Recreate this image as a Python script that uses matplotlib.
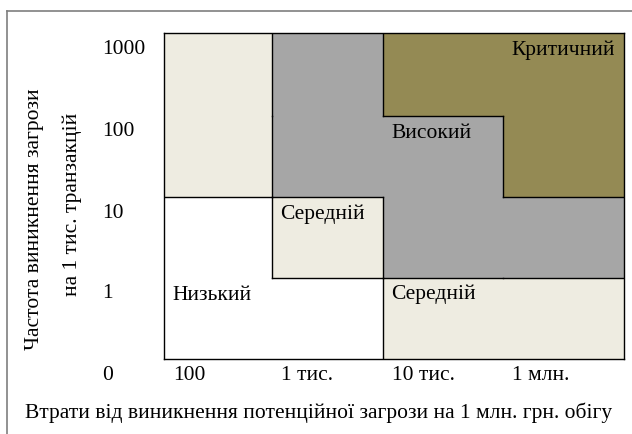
import matplotlib
matplotlib.use("Agg")
import matplotlib.pyplot as plt
from matplotlib.transforms import offset_copy
from matplotlib.patches import Rectangle
from matplotlib.collections import LineCollection
from matplotlib.lines import Line2D

# ---------------- data ----------------
freq_labels = ["1000", "100", "10", "1"]          # rows, top -> bottom
loss_labels = ["100", "1 тис.", "10 тис.", "1 млн."]  # columns, left -> right
origin_label = "0"
level_names = ["Низький", "Середній", "Високий", "Критичний"]
risk_levels = [
    [1, 2, 3, 3],
    [1, 2, 2, 3],
    [0, 1, 2, 2],
    [0, 0, 1, 1],
]
zone_captions = [("Критичний", 0, 3), ("Високий", 1, 2), ("Середній", 2, 1),
                 ("Низький", 3, 0), ("Середній", 3, 2)]
x_title = "Втрати від виникнення потенційної загрози на 1 млн. грн. обігу"
y_title = ["Частота виникнення загрози", "на 1 тис. транзакцій"]

# ---------------- layout / style ----------------
level_colors = ["#FFFFFF", "#EEECE1", "#A6A6A6", "#948A54"]
col_edges = [0, 108, 219, 339, 460]
row_edges = [0, 83, 164, 245, 326]
W, H, DPI = 632, 434, 100
FS = 15.5
plt.rcParams["font.family"] = ["Liberation Serif", "DejaVu Serif"]

fig = plt.figure(figsize=(W / DPI, H / DPI), dpi=DPI)
fig.patch.set_facecolor("white")
ax = fig.add_axes([164 / W, 1 - 359 / H, 460 / W, 326 / H])
ax.set_xlim(col_edges[0], col_edges[-1])
ax.set_ylim(row_edges[-1], row_edges[0])
ax.set_xticks([])
ax.set_yticks([])
for s in ax.spines.values():
    s.set_linewidth(1.0)
    s.set_color("black")
    s.set_zorder(5)

nr, nc = len(risk_levels), len(risk_levels[0])
for r in range(nr):
    for c in range(nc):
        ax.add_patch(Rectangle((col_edges[c], row_edges[r]),
                               col_edges[c + 1] - col_edges[c],
                               row_edges[r + 1] - row_edges[r],
                               facecolor=level_colors[risk_levels[r][c]],
                               edgecolor="none", zorder=1))

segs = []
for r in range(nr):
    for c in range(nc):
        if c + 1 < nc and risk_levels[r][c] != risk_levels[r][c + 1]:
            segs.append([(col_edges[c + 1], row_edges[r]), (col_edges[c + 1], row_edges[r + 1])])
        if r + 1 < nr and risk_levels[r][c] != risk_levels[r + 1][c]:
            segs.append([(col_edges[c], row_edges[r + 1]), (col_edges[c + 1], row_edges[r + 1])])
ax.add_collection(LineCollection(segs, colors="black", linewidths=1.0,
                                 capstyle="projecting", zorder=4))

def off(dx, dy):
    return offset_copy(ax.transData, fig=fig, x=dx, y=dy, units="dots")

DY = -21.5
for name, r, c in zone_captions:
    if c == nc - 1 and r == 0:
        ax.text(col_edges[c + 1], row_edges[r], name, transform=off(-9, DY),
                ha="right", va="baseline", fontsize=FS, zorder=6)
    else:
        ax.text(col_edges[c], row_edges[r], name, transform=off(8, DY),
                ha="left", va="baseline", fontsize=FS, zorder=6)

for r, lab in enumerate(freq_labels):
    ax.text(col_edges[0], row_edges[r], lab, transform=off(-62, DY + 1),
            ha="left", va="baseline", fontsize=FS, clip_on=False)
for c, lab in enumerate(loss_labels):
    ax.text(col_edges[c], row_edges[-1], lab, transform=off(9, DY),
            ha="left", va="baseline", fontsize=FS, clip_on=False)
ax.text(col_edges[0], row_edges[-1], origin_label, transform=off(-62, DY),
        ha="left", va="baseline", fontsize=FS, clip_on=False)

fig.text(25 / W, 1 - 418 / H, x_title, ha="left", va="baseline", fontsize=FS)
fig.text(35 / W, 1 - 219 / H, y_title[0], ha="center", va="center",
         rotation=90, fontsize=FS)
fig.text(72 / W, 1 - 204 / H, y_title[1], ha="center", va="center",
         rotation=90, fontsize=FS)

fig.add_artist(Line2D([6.5 / W, 6.5 / W], [0, 1 - 11 / H], transform=fig.transFigure,
                      color="#7F7F7F", lw=1.2))
fig.add_artist(Line2D([6.5 / W, 1], [1 - 11 / H, 1 - 11 / H], transform=fig.transFigure,
                      color="#7F7F7F", lw=1.2))

fig.savefig("out.png", dpi=DPI)
